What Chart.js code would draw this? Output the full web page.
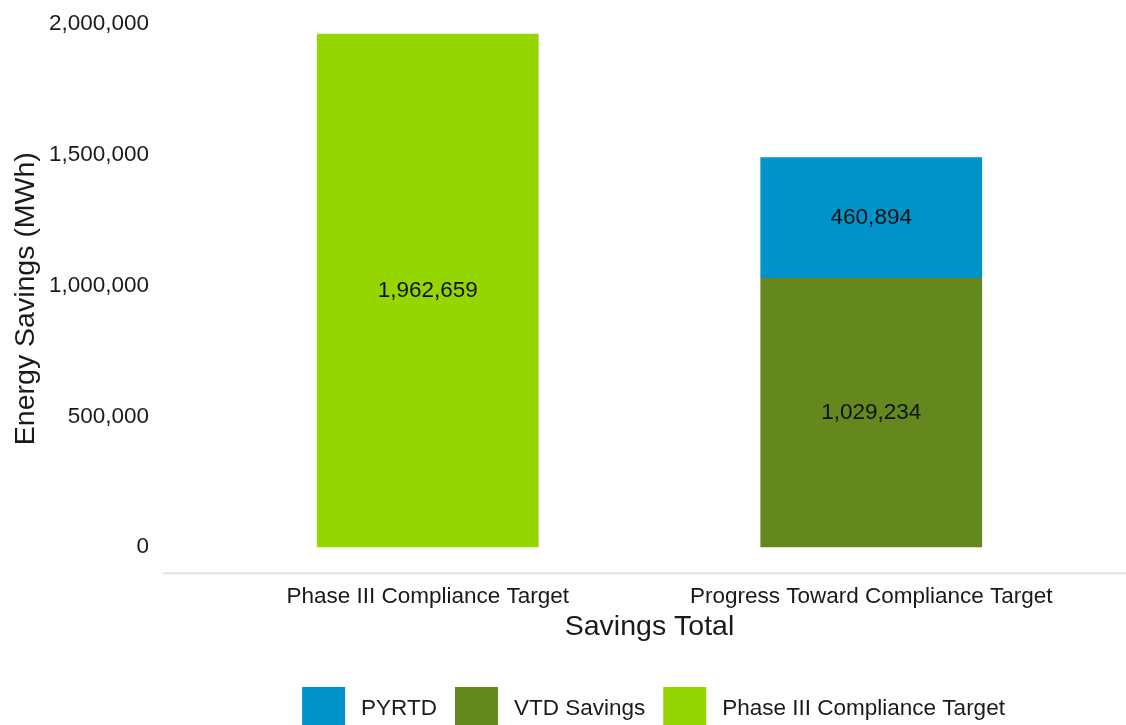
<!DOCTYPE html>
<html>
<head>
<meta charset="utf-8">
<script src="https://cdn.jsdelivr.net/npm/chart.js@4.4.0/dist/chart.umd.min.js"></script>
<style>
  html, body { margin: 0; padding: 0; background: #fff; overflow: hidden; }
  #wrap { width: 1126px; height: 725px; }
</style>
</head>
<body>
<div id="wrap"><canvas id="myChart"></canvas></div>
<script>
const categories = ["Phase III Compliance Target", "Progress Toward Compliance Target"];
const target_values = [1962659, null];
const vtd_values = [null, 1029234];
const pyrtd_values = [null, 460894];
const y_ticks = [0, 500000, 1000000, 1500000, 2000000];

const FONT = '"Liberation Sans", Arial, sans-serif';
const fmt = (v) => v.toLocaleString("en-US");

// value labels in the middle of each bar segment
const barLabels = {
  id: "barLabels",
  afterDatasetsDraw(chart) {
    const ctx = chart.ctx;
    ctx.save();
    ctx.font = "22.5px " + FONT;
    ctx.fillStyle = "#111";
    ctx.textAlign = "center";
    ctx.textBaseline = "middle";
    chart.data.datasets.forEach((ds, i) => {
      chart.getDatasetMeta(i).data.forEach((bar, j) => {
        const v = ds.data[j];
        if (v == null) return;
        const p = bar.getProps(["x", "y", "base"], true);
        ctx.fillText(fmt(v), p.x, (p.y + p.base) / 2);
      });
    });
    ctx.restore();
  },
};

// light baseline under the bars, running past the plot on both sides
const baseLine = {
  id: "baseLine",
  beforeDatasetsDraw(chart) {
    const ctx = chart.ctx;
    const y = chart.chartArea.bottom;
    ctx.save();
    ctx.strokeStyle = "#e0e0e0";
    ctx.lineWidth = 2;
    ctx.beginPath();
    ctx.moveTo(chart.scales.y.right - 43, y);
    ctx.lineTo(chart.width, y);
    ctx.stroke();
    ctx.restore();
  },
};

// big square legend at the bottom (reverse dataset order)
const bottomLegend = {
  id: "bottomLegend",
  afterDraw(chart) {
    const ctx = chart.ctx;
    const items = chart.data.datasets.slice().reverse();
    const boxW = 43, boxH = 40, gap = 16, spacing = 18;
    ctx.save();
    ctx.font = "22.5px " + FONT;
    const widths = items.map((ds) => boxW + gap + ctx.measureText(ds.label).width);
    const total = widths.reduce((a, b) => a + b, 0) + spacing * (items.length - 1);
    let x = (chart.chartArea.left + chart.chartArea.right) / 2 + 4 - total / 2;
    const top = chart.height - 38;
    ctx.textBaseline = "middle";
    ctx.textAlign = "left";
    items.forEach((ds, i) => {
      ctx.fillStyle = ds.backgroundColor;
      ctx.fillRect(x, top, boxW, boxH);
      ctx.fillStyle = "#1a1a1a";
      ctx.fillText(ds.label, x + boxW + gap, top + 22);
      x += widths[i] + spacing;
    });
    ctx.restore();
  },
};

const data = {
  labels: categories,
  datasets: [
    { label: "Phase III Compliance Target", data: target_values, backgroundColor: "#95D600" },
    { label: "VTD Savings", data: vtd_values, backgroundColor: "#64881E" },
    { label: "PYRTD", data: pyrtd_values, backgroundColor: "#0093C9" },
  ],
};

const config = {
  type: "bar",
  data: data,
  options: {
    responsive: true,
    maintainAspectRatio: false,
    animation: false,
    categoryPercentage: 1,
    barPercentage: 0.5,
    layout: { padding: { top: 24, right: 33, bottom: 46, left: 0 } },
    plugins: {
      legend: { display: false },
      tooltip: { enabled: false },
    },
    scales: {
      x: {
        stacked: true,
        grid: { display: false, drawTicks: true, tickLength: 9.5 },
        border: { display: false },
        ticks: { color: "#1a1a1a", padding: 0, font: { family: FONT, size: 22.5 } },
        title: {
          display: true,
          text: "Savings Total",
          color: "#1a1a1a",
          font: { family: FONT, size: 28.5 },
          padding: { top: 0, bottom: 35 },
        },
      },
      y: {
        stacked: true,
        min: -100000,
        max: 2000000,
        grid: { display: false, drawTicks: true, tickLength: 57 },
        border: { display: false },
        afterBuildTicks: (scale) => {
          scale.ticks = y_ticks.map((v) => ({ value: v }));
        },
        afterFit: (scale) => {
          scale.width = 206;
        },
        ticks: {
          color: "#1a1a1a",
          padding: 0,
          font: { family: FONT, size: 22.5 },
          callback: (v) => fmt(v),
        },
        title: {
          display: true,
          text: "Energy Savings (MWh)",
          color: "#1a1a1a",
          font: { family: FONT, size: 28.5 },
          padding: { top: 9, bottom: 0 },
        },
      },
    },
  },
  plugins: [baseLine, barLabels, bottomLegend],
};

const myChart = new Chart(document.getElementById("myChart"), config);
</script>
</body>
</html>
